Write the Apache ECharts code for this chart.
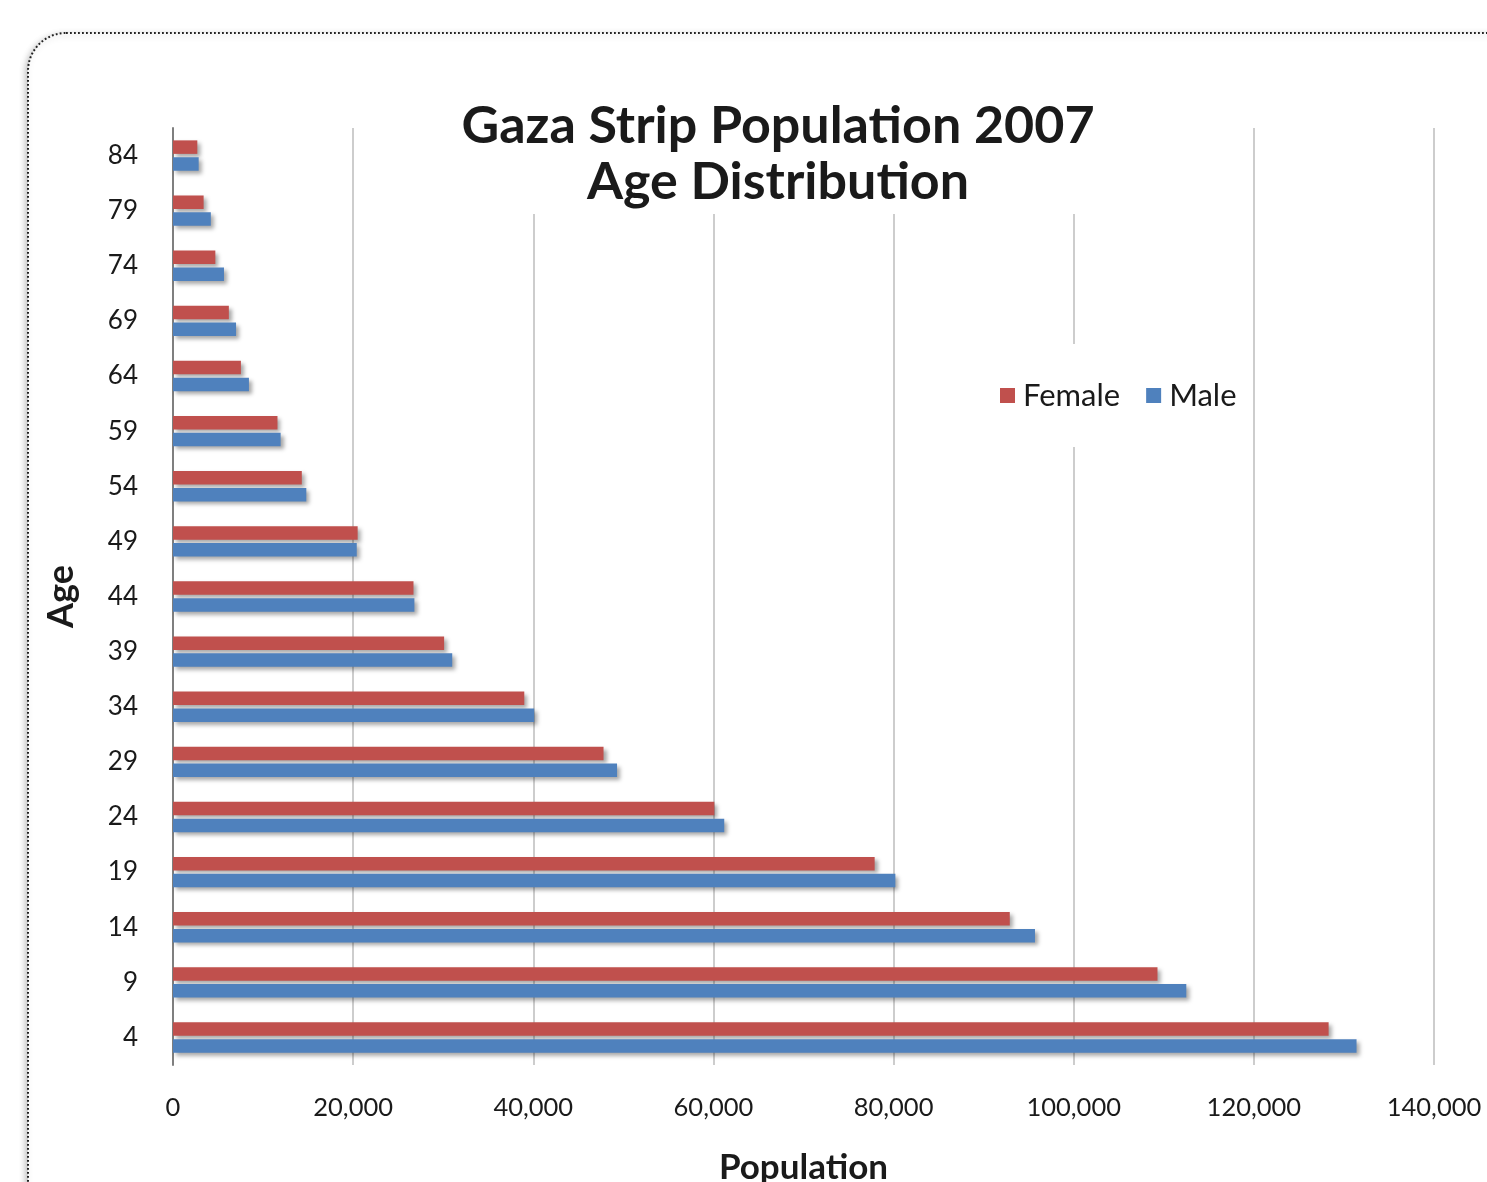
<!DOCTYPE html>
<html>
<head>
<meta charset="utf-8">
<script src="https://cdn.jsdelivr.net/npm/echarts@6/dist/echarts.min.js"></script>
<style>
html,body{margin:0;padding:0;background:#fff;overflow:hidden;}
#chart{width:1487px;height:1182px;}
</style>
</head>
<body>
<div id="chart"></div>
<script>
var ages = ['4','9','14','19','24','29','34','39','44','49','54','59','64','69','74','79','84'];
var female = [128300,109300,92900,77900,60100,47800,39000,30100,26700,20500,14300,11600,7540,6200,4700,3400,2700];
var male = [131400,112500,95700,80200,61200,49300,40100,31000,26800,20400,14800,11950,8430,7000,5660,4200,2850];
var xTicks = [0,20000,40000,60000,80000,100000,120000,140000];

var FONT = 'Lato, "Open Sans", sans-serif';
var chart = echarts.init(document.getElementById('chart'), null, {width:1487, height:1182});
var shadow = {shadowColor:'rgba(0,0,0,0.35)', shadowBlur:4, shadowOffsetX:3, shadowOffsetY:3};
chart.setOption({
  animation:false,
  backgroundColor:'#fff',
  textStyle:{fontFamily:FONT},
  graphic:[{
    type:'rect', z:-10, silent:true,
    shape:{x:28,y:33,width:1520,height:1220,r:38},
    style:{fill:'#fff',stroke:'#222',lineWidth:2,lineDash:[1.8,2.2],
      shadowColor:'rgba(0,0,0,0.25)',shadowBlur:6,shadowOffsetX:-2,shadowOffsetY:2}
  }],
  title:{
    text:'Gaza Strip Population 2007\nAge Distribution',
    left:766, textAlign:'center', top:95,
    backgroundColor:'#fff', padding:[3,12,4,12],
    textStyle:{fontFamily:FONT,fontWeight:'bold',fontSize:52,lineHeight:56,color:'#1a1a1a'}
  },
  legend:{
    data:['Female','Male'],
    left:990, top:344,
    backgroundColor:'#fff', padding:[36,10,36,10],
    icon:'rect', itemWidth:15, itemHeight:15, itemGap:26,
    textStyle:{fontFamily:FONT,fontSize:31,color:'#1a1a1a',padding:[0,0,0,3]}
  },
  grid:{left:173,width:1261,top:128,height:937,containLabel:false,outerBoundsMode:'none'},
  xAxis:{
    type:'value', min:0, max:140000, interval:20000,
    name:'Population', nameLocation:'middle', nameGap:85,
    nameTextStyle:{fontFamily:FONT,fontWeight:'bold',fontSize:35,color:'#1a1a1a'},
    axisLine:{show:false}, axisTick:{show:false},
    axisLabel:{margin:30,fontSize:25.5,color:'#1a1a1a',fontFamily:FONT,
      formatter:function(v){return xTicks.indexOf(v)>=0 ? v.toLocaleString('en-US') : '';}},
    splitLine:{show:true,lineStyle:{color:'#BDBDBD',width:1.5}}
  },
  yAxis:{
    type:'category', data:ages,
    name:'Age', nameLocation:'middle', nameGap:94, nameRotate:90,
    nameTextStyle:{fontFamily:FONT,fontWeight:'bold',fontSize:36,color:'#1a1a1a'},
    axisLine:{show:true,lineStyle:{color:'#7f7f7f',width:2}},
    axisTick:{show:false},
    axisLabel:{margin:35,fontSize:26,color:'#1a1a1a',fontFamily:FONT},
    splitLine:{show:false}
  },
  series:[
    {name:'Female',type:'bar',data:female,barWidth:13.5,barGap:'25%',
     itemStyle:Object.assign({color:'#C0504D'},shadow)},
    {name:'Male',type:'bar',data:male,barWidth:13.5,barGap:'25%',
     itemStyle:Object.assign({color:'#4F81BD'},shadow)}
  ]
});
</script>
</body>
</html>
